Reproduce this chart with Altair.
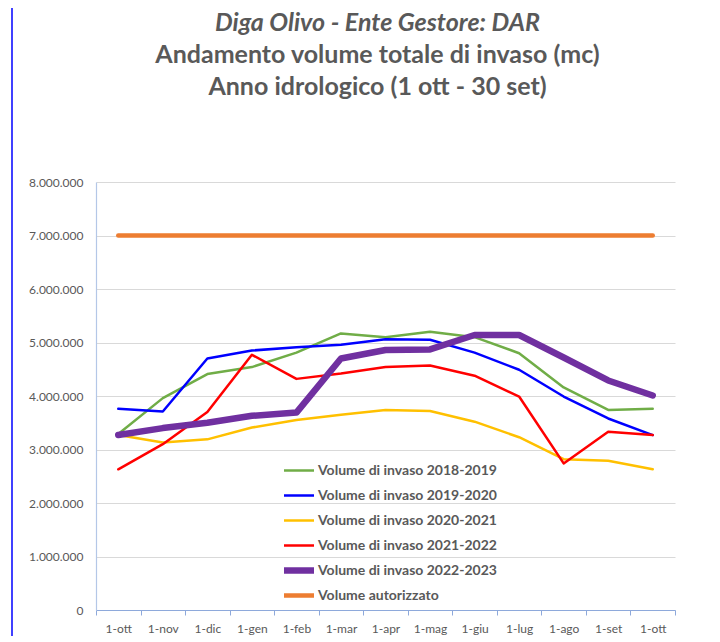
import altair as alt
import pandas as pd

months = ["1-ott", "1-nov", "1-dic", "1-gen", "1-feb", "1-mar", "1-apr",
          "1-mag", "1-giu", "1-lug", "1-ago", "1-set", "1-ott"]

series_names = [
    "Volume di invaso 2018-2019",
    "Volume di invaso 2019-2020",
    "Volume di invaso 2020-2021",
    "Volume di invaso 2021-2022",
    "Volume di invaso 2022-2023",
    "Volume autorizzato",
]

v2018 = [3290000, 3960000, 4410000, 4540000, 4810000, 5170000, 5100000,
         5200000, 5100000, 4800000, 4160000, 3740000, 3760000]
v2019 = [3760000, 3710000, 4700000, 4850000, 4910000, 4960000, 5060000,
         5050000, 4810000, 4490000, 3990000, 3580000, 3270000]
v2020 = [3270000, 3130000, 3190000, 3410000, 3550000, 3650000, 3740000,
         3720000, 3520000, 3230000, 2820000, 2790000, 2630000]
v2021 = [2630000, 3100000, 3700000, 4770000, 4320000, 4420000, 4540000,
         4570000, 4380000, 3990000, 2740000, 3330000, 3270000]
v2022 = [3270000, 3400000, 3500000, 3630000, 3690000, 4700000, 4860000,
         4870000, 5140000, 5140000, 4720000, 4290000, 4010000]
autorizzato = [7000000] * 13

colors = ["#70AD47", "#0000FF", "#FFC000", "#FF0000", "#7030A0", "#ED7D31"]
widths = [2.5, 2.5, 2.5, 2.5, 6.5, 4.5]

all_values = [v2018, v2019, v2020, v2021, v2022, autorizzato]
rows = []
for name, vals in zip(series_names, all_values):
    for i, v in enumerate(vals):
        rows.append({"serie": name, "idx": i, "valore": v})
df = pd.DataFrame(rows)

label_array = "[" + ",".join("'" + m + "'" for m in months) + "]"

W, H = 579, 428

x_enc = alt.X(
    "idx:O",
    scale=alt.Scale(type="band", paddingInner=0, paddingOuter=0),
    axis=alt.Axis(
        title=None,
        labelExpr=label_array + "[datum.value]",
        tickBand="extent",
        labelAngle=0,
        labelColor="#595959",
        labelFontSize=12,
        labelFont="Lato",
        labelPadding=8,
        ticks=True,
        tickSize=5,
        tickColor="#8EA9DB",
        domainColor="#8EA9DB",
        domainWidth=1.2,
        grid=False,
    ),
)

y_enc = alt.Y(
    "valore:Q",
    scale=alt.Scale(domain=[0, 8000000], nice=False),
    axis=alt.Axis(
        title=None,
        values=list(range(0, 8000001, 1000000)),
        labelExpr="replace(format(datum.value, ','), /,/g, '.')",
        labelColor="#595959",
        labelFontSize=12,
        labelFont="Lato",
        labelPadding=13,
        ticks=False,
        grid=True,
        gridColor="#D9D9D9",
        gridWidth=1,
        domainColor="#B4C7E7",
        domainWidth=1.2,
    ),
)

color_enc = alt.Color(
    "serie:N",
    scale=alt.Scale(domain=series_names, range=colors),
    legend=alt.Legend(
        title=None,
        orient="none",
        legendX=187,
        legendY=276,
        symbolType="M-1.2,0L1.2,0",
        symbolSize=625,
        labelFont="Lato",
        labelFontSize=14,
        labelFontWeight="bold",
        labelColor="#595959",
        labelOffset=3,
        rowPadding=0,
        clipHeight=25,
        labelLimit=400,
    ),
)
width_enc = alt.StrokeWidth(
    "serie:N",
    scale=alt.Scale(type="ordinal", domain=series_names, range=widths),
    legend=None,
)

lines = alt.Chart(df).mark_line(strokeCap="round", strokeJoin="round").encode(
    x=x_enc, y=y_enc, color=color_enc, strokeWidth=width_enc,
    detail="serie:N",
)

border = alt.Chart(pd.DataFrame({"k": [0]})).mark_rule(
    color="#0000FF", strokeWidth=1.5
).encode(
    x=alt.value(-84), y=alt.value(-174), y2=alt.value(H + 40)
)

chart = alt.layer(lines, border).properties(
    width=W,
    height=H,
    padding={"left": 88, "top": 174, "right": 37, "bottom": 26},
    autosize=alt.AutoSizeParams(type="none"),
    title=alt.Title(
        text="Diga Olivo - Ente Gestore: DAR",
        subtitle=["Andamento volume totale di invaso (mc)",
                  "Anno idrologico (1 ott - 30 set)"],
        font="Lato",
        fontSize=25,
        fontWeight="bold",
        fontStyle="italic",
        color="#595959",
        subtitleFont="Lato",
        subtitleFontSize=25,
        subtitleFontWeight="bold",
        subtitleColor="#595959",
        subtitleLineHeight=32,
        subtitlePadding=7,
        anchor="middle",
        frame="group",
        dx=-8,
        offset=-93,
    ),
).configure_view(stroke=None)

chart.save("out.html", embed_options={"renderer": "svg", "actions": False})
